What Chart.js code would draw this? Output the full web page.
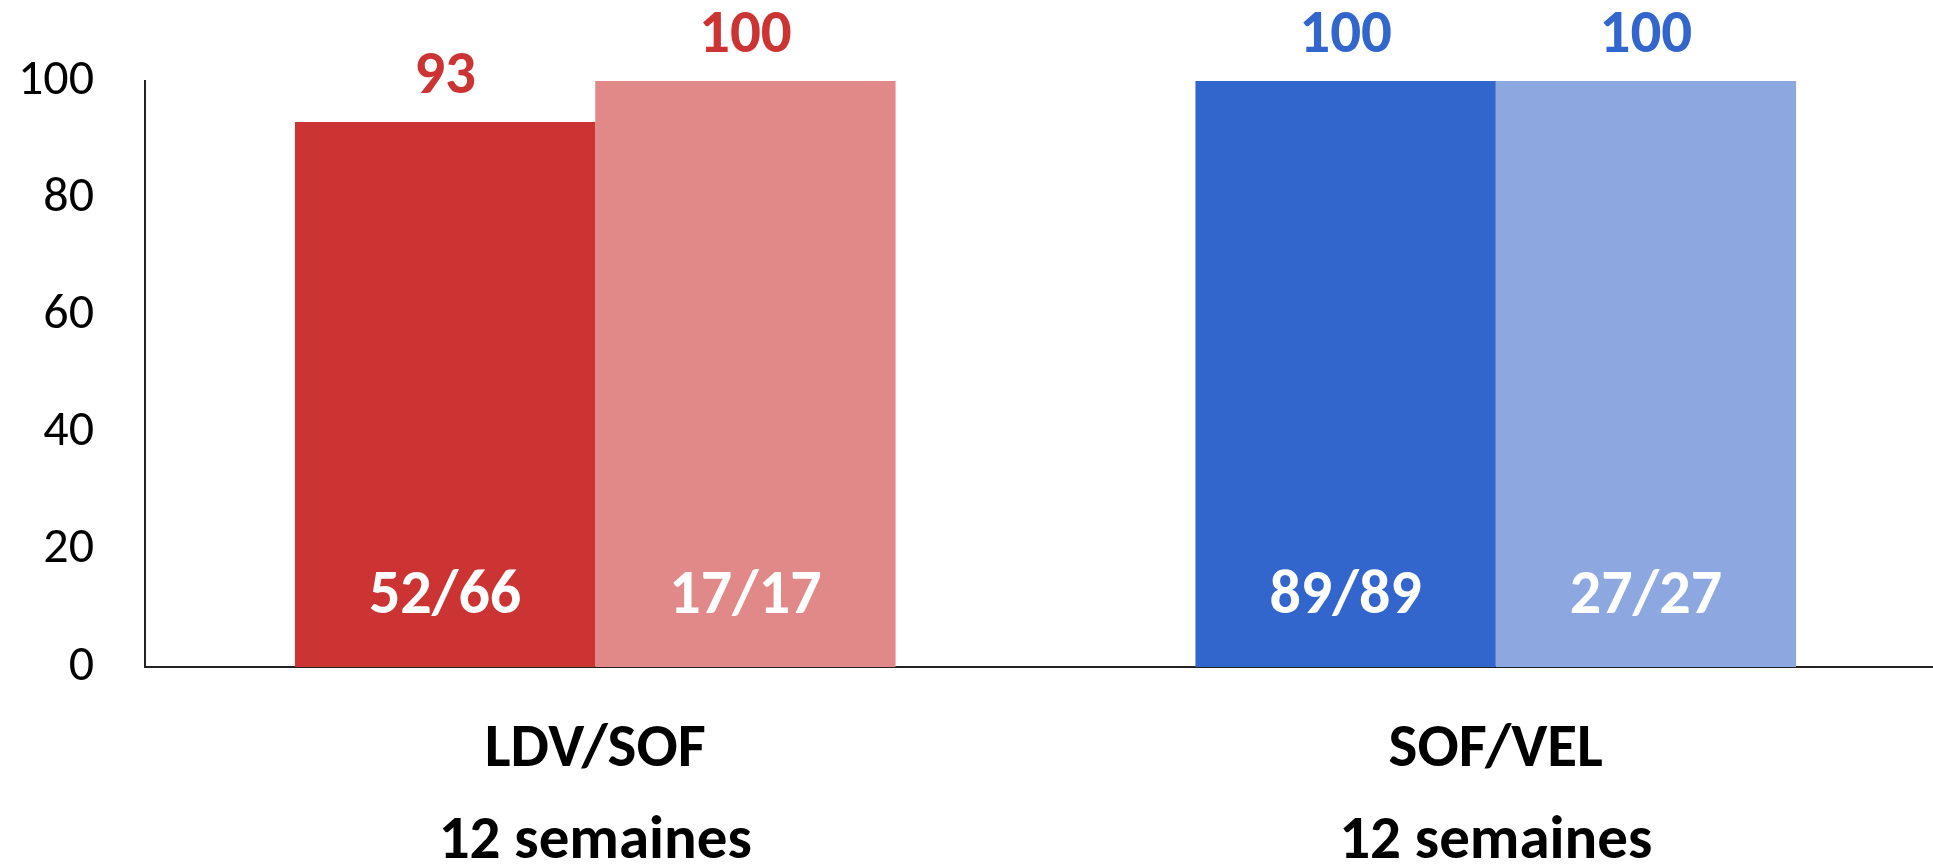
<!DOCTYPE html>
<html>
<head>
<meta charset="utf-8">
<script src="https://cdn.jsdelivr.net/npm/chart.js@4/dist/chart.umd.min.js"></script>
<style>
html,body{margin:0;padding:0;overflow:hidden;background:#fff;}
#wrap{position:relative;width:1946px;height:866px;}
</style>
</head>
<body>
<div id="wrap"><canvas id="c"></canvas></div>
<script>
const categories = [['LDV/SOF', '12 semaines'], ['SOF/VEL', '12 semaines']];
const firstBarValues = [93, 100];
const secondBarValues = [100, 100];
const firstBarFractions = ['52/66', '89/89'];
const secondBarFractions = ['17/17', '27/27'];
const yTicks = [0, 20, 40, 60, 80, 100];

const FONT = 'Carlito, Lato, sans-serif';
const darkColors = ['#CC3333', '#3366CC'];
const lightColors = ['#E08988', '#8DA8E0'];
const labelColors = ['#CC3333', '#3366CC'];
const fractions = [firstBarFractions, secondBarFractions];

const labelPlugin = {
  id: 'barLabels',
  afterDatasetsDraw(chart) {
    const ctx = chart.ctx;
    const ys = chart.scales.y;
    chart.data.datasets.forEach((ds, di) => {
      const meta = chart.getDatasetMeta(di);
      meta.data.forEach((bar, i) => {
        ctx.save();
        ctx.textAlign = 'center';
        ctx.textBaseline = 'middle';
        ctx.font = 'bold 61px ' + FONT;
        ctx.fillStyle = labelColors[i];
        ctx.fillText(String(ds.data[i]), bar.x, bar.y - 44);
        ctx.font = 'bold 62px ' + FONT;
        ctx.fillStyle = '#ffffff';
        ctx.fillText(fractions[di][i], bar.x, ys.getPixelForValue(0) - 70);
        ctx.restore();
      });
    });
  }
};

new Chart(document.getElementById('c'), {
  type: 'bar',
  data: {
    labels: categories,
    datasets: [
      { data: firstBarValues, backgroundColor: darkColors, borderWidth: 0 },
      { data: secondBarValues, backgroundColor: lightColors, borderWidth: 0 }
    ]
  },
  options: {
    responsive: true,
    maintainAspectRatio: false,
    animation: false,
    categoryPercentage: 0.667,
    barPercentage: 1,
    layout: { padding: { top: 80, left: 0, right: 0, bottom: 0 } },
    plugins: { legend: { display: false }, tooltip: { enabled: false } },
    scales: {
      x: {
        grid: { display: false, drawTicks: false },
        border: { display: true, color: '#222222', width: 2 },
        ticks: {
          color: '#000000',
          font: { family: FONT, size: 61, weight: 'bold', lineHeight: 1.5 },
          padding: 38,
          maxRotation: 0,
          autoSkip: false
        },
        afterFit(scale) { scale.height = 199; }
      },
      y: {
        min: 0,
        max: 100,
        afterBuildTicks(scale) { scale.ticks = yTicks.map(v => ({ value: v })); },
        grid: { display: false, drawTicks: false },
        border: { display: true, color: '#222222', width: 2 },
        ticks: {
          color: '#000000',
          font: { family: FONT, size: 50 },
          padding: 51
        },
        afterFit(scale) { scale.width = 145; }
      }
    }
  },
  plugins: [labelPlugin]
});
</script>
</body>
</html>
